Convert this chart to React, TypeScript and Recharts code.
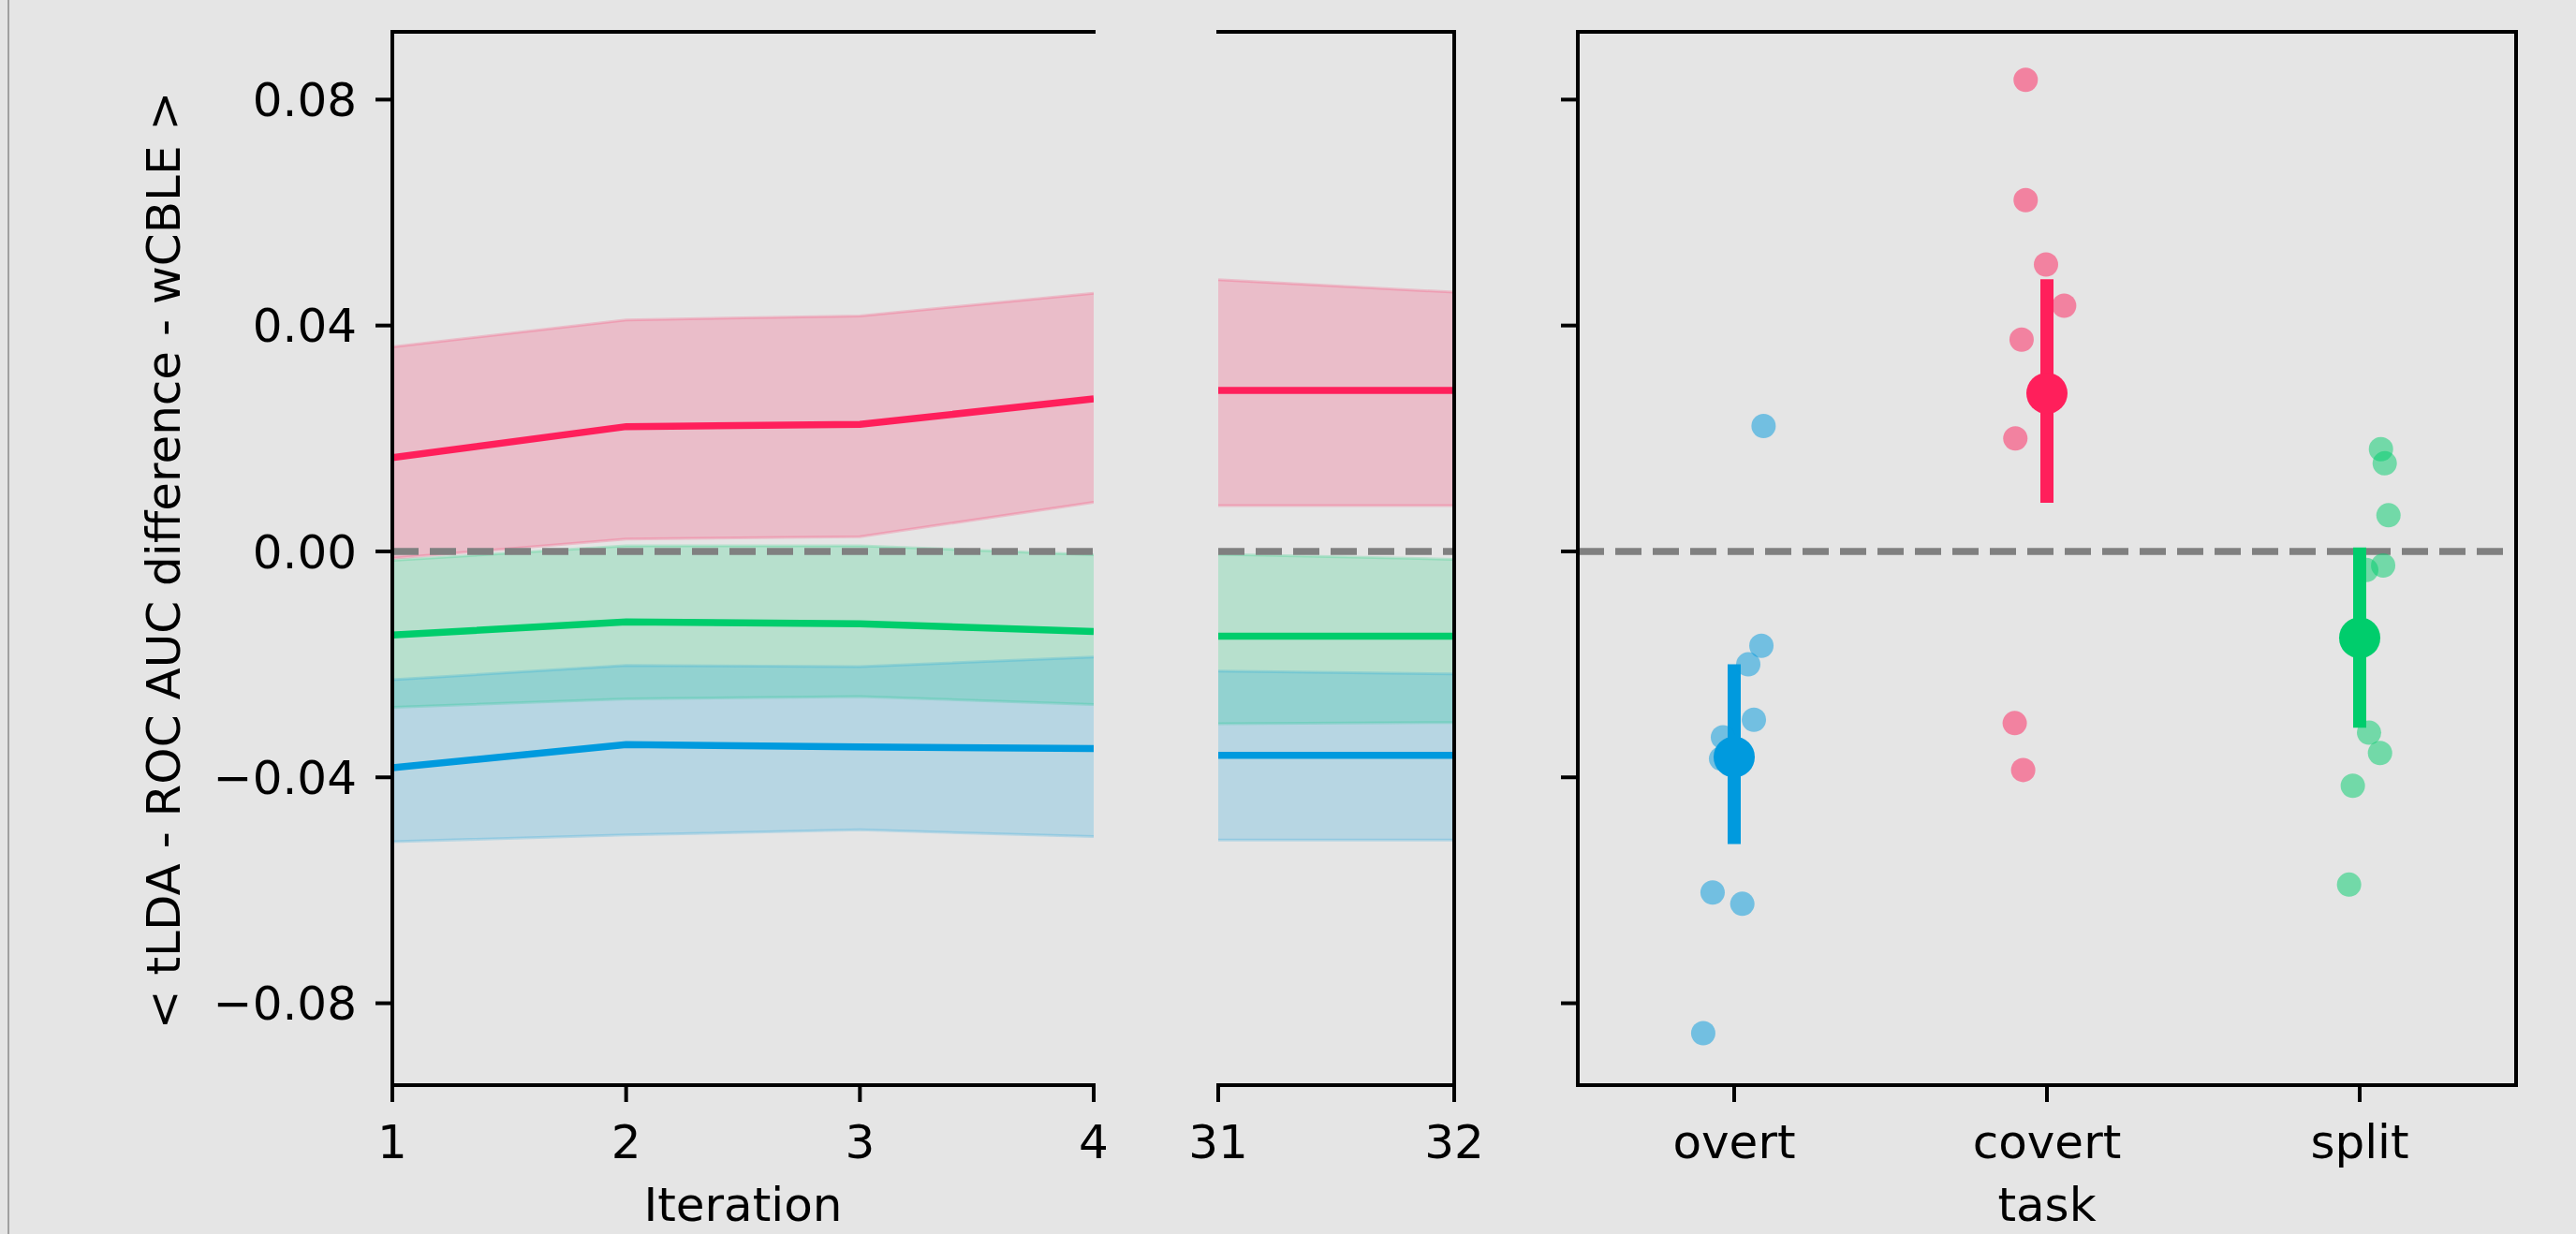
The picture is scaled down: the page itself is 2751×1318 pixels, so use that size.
import React from 'react';
import {
  ComposedChart,
  ScatterChart,
  Area,
  Line,
  XAxis,
  YAxis,
  ReferenceLine,
  Scatter,
  ErrorBar,
} from 'recharts';

// ---------- colours ----------
const RED = '#FF1F5B';
const GREEN = '#00CD6C';
const BLUE = '#009ADE';

// ---------- shared axis data ----------
const Y_DOMAIN: [number, number] = [-0.0945, 0.092];
const Y_TICKS = [-0.08, -0.04, 0, 0.04, 0.08];
const Y_LABEL = '< tLDA - ROC AUC difference - wCBLE >';

// ---------- left panel (iterations 1-4) ----------
const iterEarly = [1, 2, 3, 4];
const overtMeanEarly = [-0.0383, -0.0342, -0.0346, -0.0349];
const overtLoEarly = [-0.0514, -0.0502, -0.0493, -0.0505];
const overtHiEarly = [-0.0227, -0.0202, -0.0204, -0.0187];
const covertMeanEarly = [0.0166, 0.0221, 0.0225, 0.027];
const covertLoEarly = [-0.0012, 0.0022, 0.0026, 0.0087];
const covertHiEarly = [0.0362, 0.041, 0.0417, 0.0457];
const splitMeanEarly = [-0.0148, -0.0125, -0.0128, -0.0142];
const splitLoEarly = [-0.0276, -0.0261, -0.0257, -0.0271];
const splitHiEarly = [-0.0016, 0.001, 0.001, -0.0006];

// ---------- middle panel (iterations 31-32) ----------
const iterLate = [31, 32];
const overtMeanLate = [-0.0361, -0.0361];
const overtLoLate = [-0.0511, -0.0511];
const overtHiLate = [-0.0212, -0.0217];
const covertMeanLate = [0.0285, 0.0285];
const covertLoLate = [0.0081, 0.0081];
const covertHiLate = [0.0481, 0.0459];
const splitMeanLate = [-0.015, -0.015];
const splitLoLate = [-0.0305, -0.0303];
const splitHiLate = [-0.0005, -0.0014];

// ---------- right panel (per task) ----------
const tasks = ['overt', 'covert', 'split'];
const overtValues = [0.0222, -0.0167, -0.02, -0.0298, -0.0329, -0.0367, -0.0604, -0.0624, -0.0853];
const overtJitter = [0.094, 0.087, 0.045, 0.063, -0.036, -0.042, -0.069, 0.026, -0.099];
const covertValues = [0.0835, 0.0622, 0.0508, 0.0435, 0.0375, 0.02, -0.0304, -0.0387];
const covertJitter = [-0.068, -0.068, -0.003, 0.055, -0.081, -0.101, -0.103, -0.076];
const splitValues = [0.0181, 0.0156, 0.0064, -0.0025, -0.0033, -0.0321, -0.0357, -0.0415, -0.059];
const splitJitter = [0.068, 0.08, 0.092, 0.075, 0.021, 0.03, 0.065, -0.022, -0.034];
const taskMeans = [-0.0364, 0.028, -0.0153];
const taskCiLo = [-0.0518, 0.0086, -0.0312];
const taskCiHi = [-0.02, 0.0482, 0.0007];
const taskColors = [BLUE, RED, GREEN];

// ---------- build tables ----------
function buildRows(
  iters: number[],
  om: number[], ol: number[], oh: number[],
  cm: number[], cl: number[], ch: number[],
  sm: number[], sl: number[], sh: number[],
) {
  return iters.map((it, i) => ({
    iter: it,
    overt: om[i],
    overtBand: [ol[i], oh[i]],
    covert: cm[i],
    covertBand: [cl[i], ch[i]],
    split: sm[i],
    splitBand: [sl[i], sh[i]],
  }));
}

const earlyRows = buildRows(
  iterEarly,
  overtMeanEarly, overtLoEarly, overtHiEarly,
  covertMeanEarly, covertLoEarly, covertHiEarly,
  splitMeanEarly, splitLoEarly, splitHiEarly,
);
const lateRows = buildRows(
  iterLate,
  overtMeanLate, overtLoLate, overtHiLate,
  covertMeanLate, covertLoLate, covertHiLate,
  splitMeanLate, splitLoLate, splitHiLate,
);

const stripSets = [
  { values: overtValues, jitter: overtJitter },
  { values: covertValues, jitter: covertJitter },
  { values: splitValues, jitter: splitJitter },
].map((s, idx) => s.values.map((v, i) => ({ x: idx + s.jitter[i], y: v })));

const meanRows = taskMeans.map((m, i) => [
  { x: i, y: m, err: [m - taskCiLo[i], taskCiHi[i] - m] },
]);

// ---------- styling ----------
const W = 2751;
const H = 1318;
const FONT = 'DejaVu Sans';
const FS = 50;
const PLOT_TOP = 34;
const PLOT_BOTTOM = 1159;
const LEFT_X0 = 419;
const LEFT_X1 = 1168;
const MID_X0 = 1301;
const MID_X1 = 1553;
const RIGHT_X0 = 1685;
const RIGHT_X1 = 2687;

const spine = { stroke: '#000', strokeWidth: 4, strokeLinecap: 'square' as const };
const tickLine = { stroke: '#000', strokeWidth: 4 };
const tickText = { fill: '#000', fontSize: FS, fontFamily: FONT };
const fmtY = (v: number) => {
  const s = Math.abs(v).toFixed(2);
  return v < -1e-9 ? '\u2212' + s : s;
};
const axisLabel = (value: string) => ({
  value,
  position: 'insideBottom' as const,
  offset: 14,
  fill: '#000',
  fontSize: FS,
  fontFamily: FONT,
});

const YLabel = (props: any) => {
  const vb = props.viewBox || { y: PLOT_TOP, height: PLOT_BOTTOM - PLOT_TOP };
  const cy = vb.y + vb.height / 2 + 2;
  const cx = 192;
  return (
    <text
      x={cx}
      y={cy}
      transform={`rotate(-90 ${cx} ${cy})`}
      textAnchor="middle"
      fill="#000"
      fontSize={FS}
      fontFamily={FONT}
    >
      {Y_LABEL}
    </text>
  );
};

const bandProps = (color: string) => ({
  type: 'linear' as const,
  fill: color,
  fillOpacity: 0.2,
  stroke: color,
  strokeOpacity: 0.2,
  strokeWidth: 3,
  isAnimationActive: false,
  dot: false,
  activeDot: false,
});
const lineProps = (color: string) => ({
  type: 'linear' as const,
  stroke: color,
  strokeWidth: 7.5,
  dot: false,
  activeDot: false,
  isAnimationActive: false,
});

const zeroLine = (
  <ReferenceLine y={0} stroke="#808080" strokeWidth={7.5} strokeDasharray="28 12" />
);

// top spine: an x axis of height 1 whose line sits on the plot's top edge
const topAxis = (domain: [number, number]) => (
  <XAxis
    xAxisId="top"
    orientation="top"
    type="number"
    domain={domain}
    allowDataOverflow
    height={1}
    tick={false}
    tickLine={false}
    axisLine={spine}
  />
);
// right spine: a y axis of width 1 whose line sits on the plot's right edge
const rightAxis = (
  <YAxis
    yAxisId="r"
    orientation="right"
    type="number"
    domain={[0, 1]}
    allowDataOverflow
    width={1}
    tick={false}
    tickLine={false}
    axisLine={spine}
  />
);

const layer: React.CSSProperties = { position: 'absolute', left: 0, top: 0 };

export default function App() {
  const stripShape = (color: string) => (p: any) => (
    <circle cx={p.cx} cy={p.cy} r={13} fill={color} fillOpacity={0.5} />
  );
  const meanShape = (color: string) => (p: any) => (
    <circle cx={p.cx} cy={p.cy} r={22} fill={color} />
  );

  return (
    <div
      style={{
        position: 'absolute',
        left: 0,
        top: 0,
        width: W,
        height: H,
        background: '#e5e5e5',
        overflow: 'hidden',
      }}
    >
      <div style={{ position: 'absolute', left: 8, top: 0, width: 2, height: H, background: '#a0a0a0' }} />

      {/* left panel */}
      <div style={layer}>
        <ComposedChart
          width={W}
          height={H}
          data={earlyRows}
          margin={{ top: PLOT_TOP - 1, right: W - LEFT_X1, bottom: 0, left: 0 }}
        >
          <XAxis
            dataKey="iter"
            type="number"
            domain={[1, 4]}
            ticks={iterEarly}
            allowDataOverflow
            height={H - PLOT_BOTTOM}
            tickSize={18}
            tickMargin={24}
            axisLine={spine}
            tickLine={tickLine}
            tick={tickText}
            label={axisLabel('Iteration')}
          />
          {topAxis([1, 4])}
          <YAxis
            type="number"
            domain={Y_DOMAIN}
            allowDataOverflow
            ticks={Y_TICKS}
            width={LEFT_X0}
            tickSize={18}
            tickMargin={20}
            axisLine={spine}
            tickLine={tickLine}
            tick={tickText}
            tickFormatter={fmtY}
            label={(p: any) => <YLabel {...p} />}
          />
          <Area dataKey="covertBand" {...bandProps(RED)} />
          <Area dataKey="splitBand" {...bandProps(GREEN)} />
          <Area dataKey="overtBand" {...bandProps(BLUE)} />
          {zeroLine}
          <Line dataKey="covert" {...lineProps(RED)} />
          <Line dataKey="split" {...lineProps(GREEN)} />
          <Line dataKey="overt" {...lineProps(BLUE)} />
        </ComposedChart>
      </div>

      {/* middle panel */}
      <div style={layer}>
        <ComposedChart
          width={W}
          height={H}
          data={lateRows}
          margin={{ top: PLOT_TOP - 1, right: W - MID_X1 - 1, bottom: 0, left: MID_X0 }}
        >
          <XAxis
            dataKey="iter"
            type="number"
            domain={[31, 32]}
            ticks={iterLate}
            allowDataOverflow
            height={H - PLOT_BOTTOM}
            tickSize={18}
            tickMargin={24}
            axisLine={spine}
            tickLine={tickLine}
            tick={tickText}
          />
          {topAxis([31, 32])}
          <YAxis type="number" domain={Y_DOMAIN} allowDataOverflow hide />
          {rightAxis}
          <Area dataKey="covertBand" {...bandProps(RED)} />
          <Area dataKey="splitBand" {...bandProps(GREEN)} />
          <Area dataKey="overtBand" {...bandProps(BLUE)} />
          {zeroLine}
          <Line dataKey="covert" {...lineProps(RED)} />
          <Line dataKey="split" {...lineProps(GREEN)} />
          <Line dataKey="overt" {...lineProps(BLUE)} />
        </ComposedChart>
      </div>

      {/* right panel */}
      <div style={layer}>
        <ScatterChart
          width={W}
          height={H}
          margin={{ top: PLOT_TOP - 1, right: W - RIGHT_X1 - 1, bottom: 0, left: RIGHT_X0 - 1 }}
        >
          <XAxis
            dataKey="x"
            type="number"
            domain={[-0.5, 2.5]}
            ticks={[0, 1, 2]}
            allowDataOverflow
            height={H - PLOT_BOTTOM}
            tickSize={18}
            tickMargin={24}
            axisLine={spine}
            tickLine={tickLine}
            tick={tickText}
            tickFormatter={(i: number) => tasks[Math.round(i)] ?? ''}
            label={axisLabel('task')}
          />
          {topAxis([-0.5, 2.5])}
          <YAxis
            dataKey="y"
            type="number"
            domain={Y_DOMAIN}
            allowDataOverflow
            ticks={Y_TICKS}
            width={1}
            tickSize={18}
            axisLine={spine}
            tickLine={tickLine}
            tick={tickText}
            tickFormatter={() => ''}
          />
          {rightAxis}
          {zeroLine}
          {stripSets.map((pts, i) => (
            <Scatter
              key={'s' + i}
              data={pts}
              shape={stripShape(taskColors[i])}
              isAnimationActive={false}
            />
          ))}
          {meanRows.map((rows, i) => (
            <Scatter
              key={'m' + i}
              data={rows}
              shape={meanShape(taskColors[i])}
              isAnimationActive={false}
            >
              <ErrorBar
                dataKey="err"
                direction="y"
                width={0}
                stroke={taskColors[i]}
                strokeWidth={14}
                isAnimationActive={false}
              />
            </Scatter>
          ))}
        </ScatterChart>
      </div>
    </div>
  );
}
